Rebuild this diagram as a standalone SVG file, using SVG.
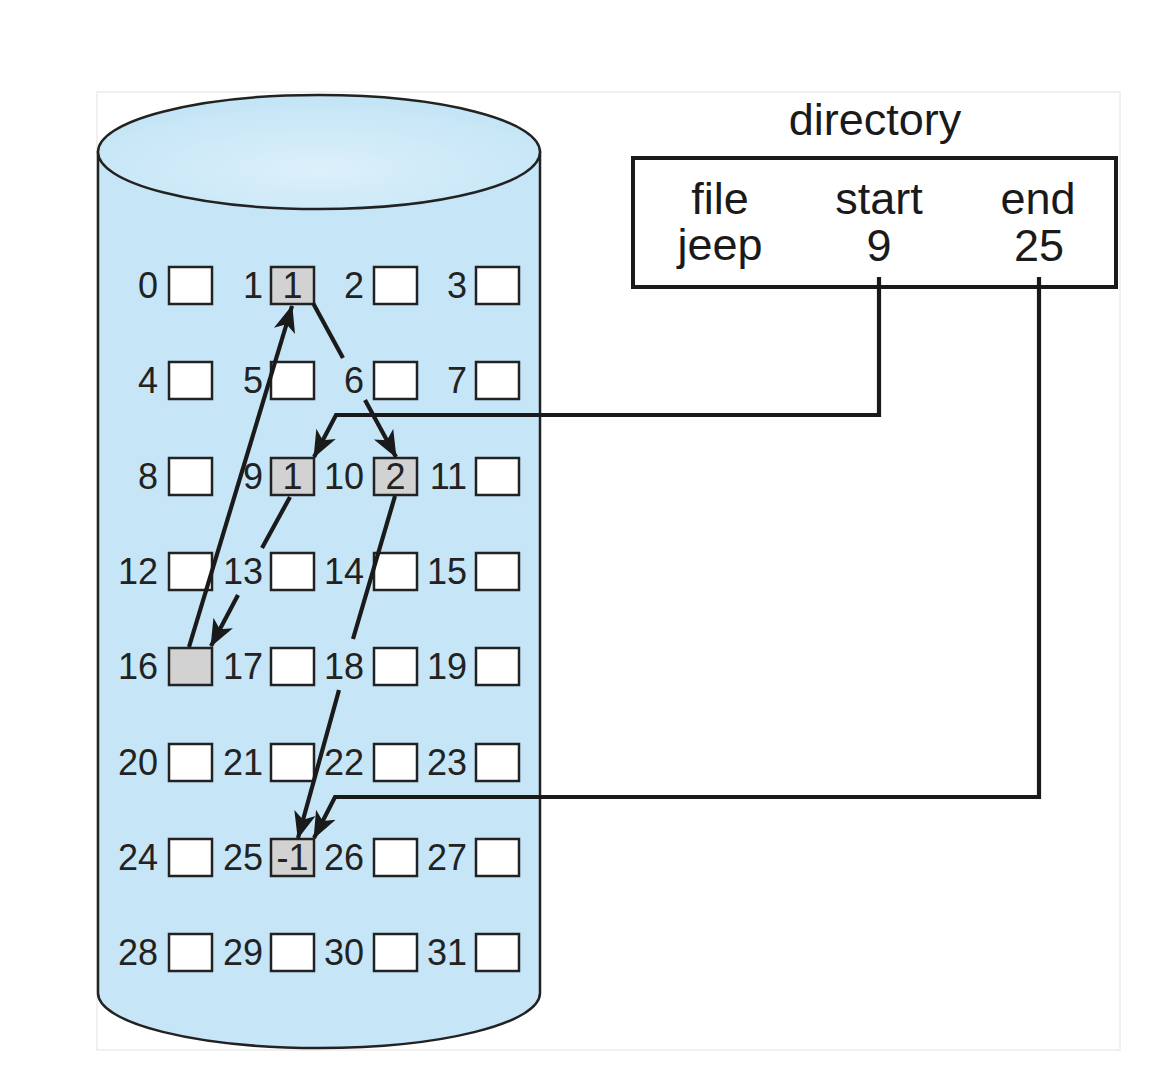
<svg xmlns="http://www.w3.org/2000/svg" width="1152" height="1081" viewBox="0 0 1152 1081">
<defs>
<radialGradient id="topg" cx="0.5" cy="0.65" r="0.6">
<stop offset="0" stop-color="#dcf0fb"/>
<stop offset="1" stop-color="#c4e5f6"/>
</radialGradient>
<marker id="ah" markerUnits="userSpaceOnUse" markerWidth="30" markerHeight="26" refX="26" refY="12" orient="auto" viewBox="0 0 30 26">
<path d="M0,1 L27,12 L0,23 L7,12 Z" fill="#1a1a1a"/>
</marker>
<style>
.lbl{font-family:"Liberation Sans",Arial,sans-serif;font-size:36px;fill:#222;text-anchor:end}
.val{font-family:"Liberation Sans",Arial,sans-serif;font-size:36px;fill:#222;text-anchor:middle}
.dir{font-family:"Liberation Sans",Arial,sans-serif;font-size:45px;fill:#1a1a1a;text-anchor:middle}
.box{fill:#fff;stroke:#222;stroke-width:2.5}
.used{fill:#d2d2d2;stroke:#222;stroke-width:2.5}
.ln{fill:none;stroke:#1a1a1a;stroke-width:4.2;stroke-linejoin:miter}
</style>
</defs>
<rect x="97" y="92" width="1023" height="958" fill="#fff" stroke="#ececec" stroke-width="1.5"/>
<g id="disk">
<path d="M98,152 L98,993 A221,55 0 0 0 540,993 L540,152 Z" fill="#c6e6f7" stroke="#222" stroke-width="2.5"/>
<ellipse cx="319" cy="152" rx="221" ry="57" fill="url(#topg)" stroke="#222" stroke-width="2.5"/>
</g>
<g id="blocks">
<g id="b0"><text class="lbl" x="158" y="298">0</text><rect class="box" x="169" y="267" width="43" height="37"/></g>
<g id="b1"><text class="lbl" x="263" y="298">1</text><rect class="used" x="271" y="267" width="43" height="37"/><text class="val" x="292.5" y="298">1</text></g>
<g id="b2"><text class="lbl" x="364" y="298">2</text><rect class="box" x="374" y="267" width="43" height="37"/></g>
<g id="b3"><text class="lbl" x="467" y="298">3</text><rect class="box" x="476" y="267" width="43" height="37"/></g>
<g id="b4"><text class="lbl" x="158" y="393">4</text><rect class="box" x="169" y="362" width="43" height="37"/></g>
<g id="b5"><text class="lbl" x="263" y="393">5</text><rect class="box" x="271" y="362" width="43" height="37"/></g>
<g id="b6"><text class="lbl" x="364" y="393">6</text><rect class="box" x="374" y="362" width="43" height="37"/></g>
<g id="b7"><text class="lbl" x="467" y="393">7</text><rect class="box" x="476" y="362" width="43" height="37"/></g>
<g id="b8"><text class="lbl" x="158" y="489">8</text><rect class="box" x="169" y="458" width="43" height="37"/></g>
<g id="b9"><text class="lbl" x="263" y="489">9</text><rect class="used" x="271" y="458" width="43" height="37"/><text class="val" x="292.5" y="489">1</text></g>
<g id="b10"><text class="lbl" x="364" y="489">10</text><rect class="used" x="374" y="458" width="43" height="37"/><text class="val" x="395.5" y="489">2</text></g>
<g id="b11"><text class="lbl" x="467" y="489">11</text><rect class="box" x="476" y="458" width="43" height="37"/></g>
<g id="b12"><text class="lbl" x="158" y="584">12</text><rect class="box" x="169" y="553" width="43" height="37"/></g>
<g id="b13"><text class="lbl" x="263" y="584">13</text><rect class="box" x="271" y="553" width="43" height="37"/></g>
<g id="b14"><text class="lbl" x="364" y="584">14</text><rect class="box" x="374" y="553" width="43" height="37"/></g>
<g id="b15"><text class="lbl" x="467" y="584">15</text><rect class="box" x="476" y="553" width="43" height="37"/></g>
<g id="b16"><text class="lbl" x="158" y="679">16</text><rect class="used" x="169" y="648" width="43" height="37"/></g>
<g id="b17"><text class="lbl" x="263" y="679">17</text><rect class="box" x="271" y="648" width="43" height="37"/></g>
<g id="b18"><text class="lbl" x="364" y="679">18</text><rect class="box" x="374" y="648" width="43" height="37"/></g>
<g id="b19"><text class="lbl" x="467" y="679">19</text><rect class="box" x="476" y="648" width="43" height="37"/></g>
<g id="b20"><text class="lbl" x="158" y="775">20</text><rect class="box" x="169" y="744" width="43" height="37"/></g>
<g id="b21"><text class="lbl" x="263" y="775">21</text><rect class="box" x="271" y="744" width="43" height="37"/></g>
<g id="b22"><text class="lbl" x="364" y="775">22</text><rect class="box" x="374" y="744" width="43" height="37"/></g>
<g id="b23"><text class="lbl" x="467" y="775">23</text><rect class="box" x="476" y="744" width="43" height="37"/></g>
<g id="b24"><text class="lbl" x="158" y="870">24</text><rect class="box" x="169" y="839" width="43" height="37"/></g>
<g id="b25"><text class="lbl" x="263" y="870">25</text><rect class="used" x="271" y="839" width="43" height="37"/><text class="val" x="292.5" y="870">-1</text></g>
<g id="b26"><text class="lbl" x="364" y="870">26</text><rect class="box" x="374" y="839" width="43" height="37"/></g>
<g id="b27"><text class="lbl" x="467" y="870">27</text><rect class="box" x="476" y="839" width="43" height="37"/></g>
<g id="b28"><text class="lbl" x="158" y="965">28</text><rect class="box" x="169" y="934" width="43" height="37"/></g>
<g id="b29"><text class="lbl" x="263" y="965">29</text><rect class="box" x="271" y="934" width="43" height="37"/></g>
<g id="b30"><text class="lbl" x="364" y="965">30</text><rect class="box" x="374" y="934" width="43" height="37"/></g>
<g id="b31"><text class="lbl" x="467" y="965">31</text><rect class="box" x="476" y="934" width="43" height="37"/></g>
</g>
<g id="directory">
<text class="dir" x="875" y="135">directory</text>
<rect x="633" y="158" width="483" height="129" fill="#fff" stroke="#1a1a1a" stroke-width="4"/>
<text class="dir" x="720" y="214">file</text>
<text class="dir" x="879" y="214">start</text>
<text class="dir" x="1038" y="214">end</text>
<text class="dir" x="720" y="260">jeep</text>
<text class="dir" x="879" y="261">9</text>
<text class="dir" x="1039" y="261">25</text>
</g>
<g id="connectors">
<path class="ln" d="M290,497 L262,548"/>
<path class="ln" d="M238,595 L211,646" marker-end="url(#ah)"/>
<path class="ln" d="M189,647 L292,306" marker-end="url(#ah)"/>
<path class="ln" d="M313,303 L343,358"/>
<path class="ln" d="M365,400 L396,457" marker-end="url(#ah)"/>
<path class="ln" d="M395,496 L353,639"/>
<path class="ln" d="M339,690 L298,838" marker-end="url(#ah)"/>
<path class="ln" d="M879,277 L879,415 L336,415 L314,457" marker-end="url(#ah)"/>
<path class="ln" d="M1039,277 L1039,797 L335,797 L314,838" marker-end="url(#ah)"/>
</g>
</svg>
